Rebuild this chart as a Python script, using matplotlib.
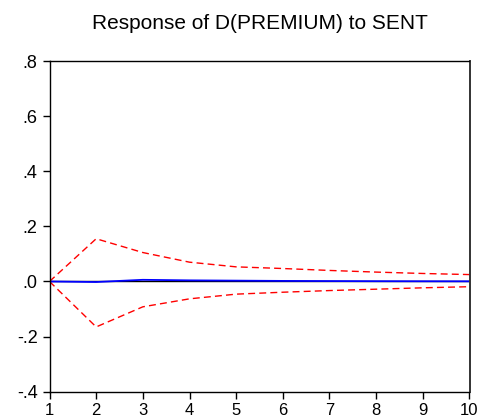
import matplotlib.pyplot as plt
import numpy as np

plt.rcParams['font.family'] = ['Liberation Sans', 'DejaVu Sans']

periods = [1, 2, 3, 4, 5, 6, 7, 8, 9, 10]
response = [0.0, -0.002, 0.006, 0.004, 0.003, 0.002, 0.0015, 0.001, 0.0007, 0.0005]
upper = [0.0, 0.155, 0.105, 0.07, 0.053, 0.047, 0.040, 0.034, 0.029, 0.025]
lower = [0.0, -0.165, -0.092, -0.063, -0.046, -0.039, -0.033, -0.028, -0.023, -0.019]

yticks = [-0.4, -0.2, 0.0, 0.2, 0.4, 0.6, 0.8]
yticklabels = ['-.4', '-.2', '.0', '.2', '.4', '.6', '.8']

fig = plt.figure(figsize=(4.84, 4.19), dpi=100)
ax = fig.add_axes([49.5/484, 1-391.7/419, 420/484, 330.7/419])

ax.axhline(0, color='black', linewidth=1.0, zorder=1)
ax.plot(periods, upper, color='#ff0000', linestyle=(0, (5, 3)), linewidth=1.0)
ax.plot(periods, lower, color='#ff0000', linestyle=(0, (5, 3)), linewidth=1.0)
ax.plot(periods, response, color='#0000ff', linewidth=1.3)

ax.set_xlim(1, 10)
ax.set_ylim(-0.4, 0.8)
ax.set_xticks(periods)
ax.set_yticks(yticks)
ax.set_yticklabels(yticklabels)
ax.tick_params(direction='out', length=5, width=1, labelsize=12)
ax.tick_params(axis='y', pad=3.5, labelsize=13)
ax.tick_params(axis='x', pad=3)
for s in ax.spines.values():
    s.set_linewidth(1.0)
ax.spines['right'].set_color('#333333')
ax.spines['right'].set_linewidth(1.4)

fig.text(259.5/484, 1-29/419, 'Response of D(PREMIUM) to SENT', ha='center', va='baseline', fontsize=15)

plt.savefig('out.png', dpi=100)
